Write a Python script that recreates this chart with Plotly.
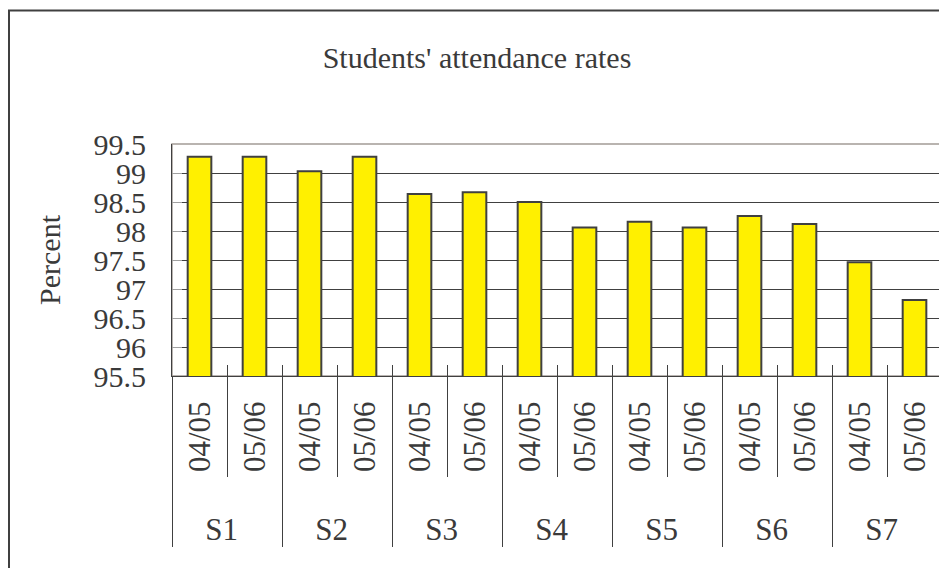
import plotly.graph_objects as go

schools = ["S1", "S1", "S2", "S2", "S3", "S3", "S4", "S4",
           "S5", "S5", "S6", "S6", "S7", "S7"]
years = ["04/05", "05/06"] * 7
rates = [99.28, 99.28, 99.03, 99.28, 98.64, 98.67, 98.50, 98.06,
         98.16, 98.06, 98.26, 98.12, 97.46, 96.81]
y_ticks = [95.5, 96, 96.5, 97, 97.5, 98, 98.5, 99, 99.5]
y_tick_text = ["95.5", "96", "96.5", "97", "97.5", "98", "98.5", "99", "99.5"]

FONT = "Liberation Serif"
TXT = "#3a3a3a"
DARK = "#404040"

# the page body has an 8px margin, so the figure is sized to fit inside it
W, H = 939, 560
L, R, T, B = 164, 5, 136, 192
PW, PH = W - L - R, H - T - B

# pad the inner labels so the group row sits lower (invisible spaces)
year_labels = ["\u00a0\u00a0\u2009" + y for y in years]

fig = go.Figure()
fig.add_trace(go.Bar(
    x=[schools, year_labels], y=rates,
    marker=dict(color="#FFF000", line=dict(color=DARK, width=2)),
    showlegend=False, hoverinfo="x+y",
))
# invisible copy to carry the short inside boundary ticks
fig.add_trace(go.Bar(
    x=[schools, year_labels], y=rates, xaxis="x2",
    marker=dict(color="rgba(0,0,0,0)", line=dict(width=0)),
    showlegend=False, hoverinfo="skip",
))

fig.update_layout(
    width=W, height=H,
    margin=dict(l=L, r=R, t=T, b=B),
    paper_bgcolor="white", plot_bgcolor="white",
    font=dict(family=FONT, size=30, color=TXT),
    bargap=0.57,
    title=dict(text="Students' attendance rates", x=469 / W, xanchor="center",
               y=1 - 49 / H, yanchor="middle",
               font=dict(family=FONT, size=30, color=TXT)),
    xaxis=dict(
        type="multicategory",
        tickangle=-90,
        ticks="outside", tickson="boundaries", ticklen=100, tickwidth=1,
        tickcolor=DARK,
        showdividers=True, dividercolor=DARK, dividerwidth=1,
        showline=True, linecolor=DARK, linewidth=1,
        showgrid=False,
        ticklabelstandoff=12,
        tickfont=dict(family=FONT, size=31, color=TXT),
    ),
    xaxis2=dict(
        type="multicategory", overlaying="x", matches="x", anchor="y",
        side="bottom",
        ticks="inside", tickson="boundaries", ticklen=11, tickwidth=1,
        tickcolor=DARK, showticklabels=False, showdividers=False,
        showline=False, showgrid=False,
    ),
    yaxis=dict(
        range=[95.5, 99.5],
        tickvals=y_ticks, ticktext=y_tick_text,
        ticks="inside", ticklen=10, tickcolor="#a0a0a0",
        showgrid=True, gridcolor=DARK, gridwidth=1,
        showline=True, linecolor=DARK, linewidth=1,
        zeroline=False,
        ticklabelstandoff=19,
        tickfont=dict(family=FONT, size=30, color=TXT),
        title=dict(text="Percent", standoff=24,
                   font=dict(family=FONT, size=30, color=TXT)),
    ),
    shapes=[
        # grey frame of the plot area (top and right edges)
        dict(type="rect", xref="paper", yref="paper", x0=0, x1=1, y0=0, y1=1,
             line=dict(color="#a39c96", width=1.5), layer="below"),
        # outer chart border
        dict(type="rect", xref="paper", yref="paper",
             x0=(1 - L) / PW, x1=1.03, y0=-1.0, y1=(PH + T - 2.5) / PH,
             line=dict(color=DARK, width=2), layer="below"),
    ],
)

fig.write_html("out.html")
